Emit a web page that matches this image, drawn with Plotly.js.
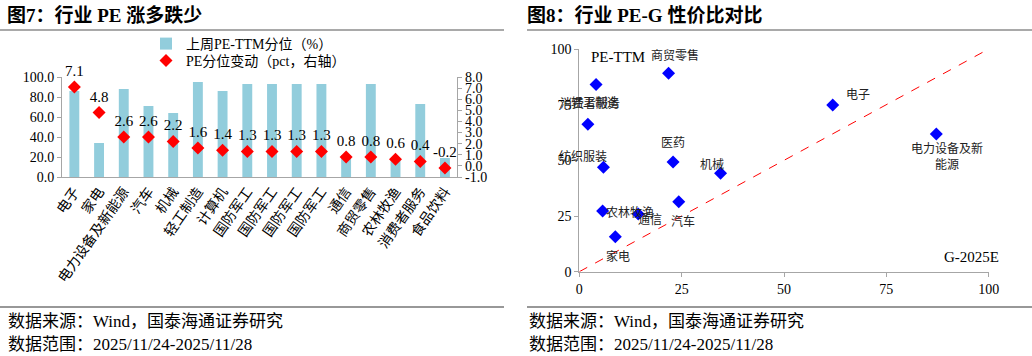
<!DOCTYPE html>
<html>
<head>
<meta charset="utf-8">
<script src="https://cdn.plot.ly/plotly-3.0.1.min.js"></script>
<style>
html,body{margin:0;padding:0;background:#fff;}
#chart{width:1032px;height:356px;}
</style>
</head>
<body>
<div id="chart"></div>
<script>
// ---- Left chart data (图7) ----
var industries = ["电子","家电","电力设备及新能源","汽车","机械","轻工制造","计算机","国防军工","国防军工","国防军工","国防军工","通信","商贸零售","农林牧渔","消费者服务","食品饮料"];
var pePctLastWeek = [86, 34, 88, 71, 64, 95, 86, 93, 93, 93, 93, 22, 93, 17, 73, 19];
var pePctChange = [7.1, 4.8, 2.6, 2.6, 2.2, 1.6, 1.4, 1.3, 1.3, 1.3, 1.3, 0.8, 0.8, 0.6, 0.4, -0.2];
var leftYTicks = [0, 20, 40, 60, 80, 100];
var rightYTicks = [-1, 0, 1, 2, 3, 4, 5, 6, 7, 8];

// ---- Right chart data (图8) ----
var pegNames = ["商贸零售","轻工制造","消费者服务","纺织服装","医药","机械","电子","电力设备及新能源","农林牧渔","通信","汽车","家电"];
var pegG = [21.8, 4.1, 2.1, 5.9, 22.9, 34.5, 61.9, 87.2, 5.7, 14.4, 24.3, 8.8];
var pegPE = [89.1, 84.1, 66.2, 46.9, 49.3, 44.2, 74.9, 61.8, 27.3, 25.9, 31.4, 15.7];
var pegTicks = [0, 25, 50, 75, 100];
var refLineX = [0, 100];
var refLineY = [0, 100];

// label offsets (pixels) for the scatter labels
var labelOffsets = {
  "商贸零售":[6,-18], "轻工制造":[-1,19], "消费者服务":[2,-21], "纺织服装":[-20,-10],
  "医药":[0,-19], "机械":[-9,-9], "电子":[25,-10], "电力设备及新能源":[11,22],
  "农林牧渔":[27,2], "通信":[12,6], "汽车":[4,20], "家电":[3,20]
};
var labelText = {"电力设备及新能源":"电力设备及新<br>能源"};

var W = 1032, H = 356;
function px(x){return x/W;}
function py(y){return 1 - y/H;}

var serif = "Liberation Serif, 'Noto Sans CJK SC', serif";
var axisGrey = "#A6A6A6";

var idx = industries.map(function(_, i){return i;});
var bounds = [];
for (var i = 0; i <= industries.length; i++) bounds.push(i - 0.5);

var traces = [
  {
    type: "bar", x: idx, y: pePctLastWeek, xaxis: "x", yaxis: "y",
    name: "上周PE-TTM分位（%）", width: 0.4, legend: "legend",
    marker: {color: "#92CDDC"}, hoverinfo: "y"
  },
  {
    type: "scatter", mode: "markers+text", x: idx, y: pePctChange, xaxis: "x", yaxis: "y2",
    name: "PE分位变动（pct，右轴）", legend: "legend2",
    text: pePctChange.map(function(v){return v.toFixed(1);}),
    textposition: "top center", cliponaxis: false,
    textfont: {family: serif, size: 15, color: "#000"},
    marker: {symbol: "diamond", size: 10, color: "#FF0000"}
  },
  {
    type: "scatter", mode: "lines", x: refLineX, y: refLineY, xaxis: "x2", yaxis: "y3",
    line: {color: "#FF0000", dash: "dash", width: 1}, showlegend: false, hoverinfo: "skip"
  },
  {
    type: "scatter", mode: "markers", x: pegG, y: pegPE, xaxis: "x2", yaxis: "y3",
    text: pegNames, marker: {symbol: "diamond", size: 10, color: "#0000FF"}, showlegend: false
  }
];

var titleFont = {family: serif, size:19, color:"#000"};
var footFont = {family: serif, size:17, color:"#000"};
var annotations = [
  {xref:"paper", yref:"paper", x: px(5), y: py(15), xanchor:"left", yanchor:"middle", showarrow:false,
   text:"<b>图7：行业 PE 涨多跌少</b>", font: titleFont},
  {xref:"paper", yref:"paper", x: px(525), y: py(15), xanchor:"left", yanchor:"middle", showarrow:false,
   text:"<b>图8：行业 PE-G 性价比对比</b>", font: titleFont},
  {xref:"paper", yref:"paper", x: px(6), y: py(321), xanchor:"left", yanchor:"middle", showarrow:false,
   text:"数据来源：Wind，国泰海通证券研究", font: footFont},
  {xref:"paper", yref:"paper", x: px(6), y: py(344), xanchor:"left", yanchor:"middle", showarrow:false,
   text:"数据范围：2025/11/24-2025/11/28", font: footFont},
  {xref:"paper", yref:"paper", x: px(527), y: py(321), xanchor:"left", yanchor:"middle", showarrow:false,
   text:"数据来源：Wind，国泰海通证券研究", font: footFont},
  {xref:"paper", yref:"paper", x: px(527), y: py(344), xanchor:"left", yanchor:"middle", showarrow:false,
   text:"数据范围：2025/11/24-2025/11/28", font: footFont},
  {xref:"paper", yref:"paper", x: px(618), y: py(57), xanchor:"center", yanchor:"middle", showarrow:false,
   text:"PE-TTM", font:{family: serif, size:15, color:"#000"}},
  {xref:"paper", yref:"paper", x: px(971), y: py(257), xanchor:"center", yanchor:"middle", showarrow:false,
   text:"G-2025E", font:{family: serif, size:15, color:"#000"}}
];

pegNames.forEach(function(n, i){
  var o = labelOffsets[n];
  annotations.push({
    xref:"x2", yref:"y3", x: pegG[i], y: pegPE[i], showarrow:false,
    xshift: o[0], yshift: -o[1], xanchor:"center", yanchor:"middle",
    text: labelText[n] || n, font:{family: serif, size:12, color:"#222"}
  });
});

var lineCol = "#8C8C8C";
var shapes = [
  {type:"line", xref:"paper", yref:"paper", x0:0, x1:px(504), y0:py(30), y1:py(30), line:{color:lineCol, width:1.5}},
  {type:"line", xref:"paper", yref:"paper", x0:px(527), x1:1, y0:py(30), y1:py(30), line:{color:lineCol, width:1.5}},
  {type:"line", xref:"paper", yref:"paper", x0:0, x1:px(504), y0:py(307), y1:py(307), line:{color:"#333", width:1.2}},
  {type:"line", xref:"paper", yref:"paper", x0:px(527), x1:1, y0:py(307), y1:py(307), line:{color:"#333", width:1.2}}
];

var tickFont = {family: serif, size: 14, color: "#000"};
var legendFont = {family: serif, size: 14, color: "#000"};

var layout = {
  width: W, height: H,
  margin: {l:0, r:0, t:0, b:0},
  paper_bgcolor: "#fff", plot_bgcolor: "rgba(0,0,0,0)",
  showlegend: true,
  legend: {x: px(146), y: py(44), xanchor:"left", yanchor:"middle", bgcolor:"rgba(0,0,0,0)",
           font: legendFont, itemwidth:30, borderwidth:0},
  legend2: {x: px(146), y: py(61), xanchor:"left", yanchor:"middle", bgcolor:"rgba(0,0,0,0)",
           font: legendFont, itemwidth:30, borderwidth:0},
  xaxis: {domain:[px(62), px(457.3)], range:[-0.5, industries.length - 0.5], anchor:"y",
          tickmode:"array", tickvals: idx, ticktext: industries, tickangle:-55,
          ticks:"", showline:true, linecolor: axisGrey, linewidth:1, showgrid:false, zeroline:false,
          tickfont: tickFont},
  xaxis3: {overlaying:"x", anchor:"y", range:[-0.5, industries.length - 0.5],
           tickmode:"array", tickvals: bounds, showticklabels:false,
           ticks:"outside", ticklen:4, tickcolor: axisGrey, showline:false, showgrid:false, zeroline:false},
  yaxis: {domain:[py(177), py(77)], range:[0, 100], anchor:"x",
          tickmode:"array", tickvals: leftYTicks, ticktext: leftYTicks.map(function(v){return v.toFixed(1);}),
          ticks:"outside", ticklen:4, tickcolor: axisGrey, showline:true, linecolor: axisGrey,
          showgrid:false, zeroline:false, tickfont: tickFont},
  yaxis2: {overlaying:"y", side:"right", anchor:"x", range:[-1, 8],
           tickmode:"array", tickvals: rightYTicks, ticktext: rightYTicks.map(function(v){return v.toFixed(1);}),
           ticks:"outside", ticklen:4, tickcolor: axisGrey, showline:true, linecolor: axisGrey,
           showgrid:false, zeroline:false, tickfont: tickFont},
  xaxis2: {domain:[px(579.3), px(988.7)], range:[0, 100], anchor:"y3",
           tickmode:"array", tickvals: pegTicks, ticks:"outside", ticklen:4, tickcolor: axisGrey,
           showline:true, linecolor: axisGrey, showgrid:false, zeroline:false, tickfont: tickFont},
  yaxis3: {domain:[py(271.7), py(49)], range:[0, 100], anchor:"x2",
           tickmode:"array", tickvals: pegTicks, ticks:"outside", ticklen:4, tickcolor: axisGrey,
           showline:true, linecolor: axisGrey, showgrid:false, zeroline:false, tickfont: tickFont},
  annotations: annotations,
  shapes: shapes
};

Plotly.newPlot("chart", traces, layout, {displayModeBar:false, staticPlot:true});
</script>
</body>
</html>
